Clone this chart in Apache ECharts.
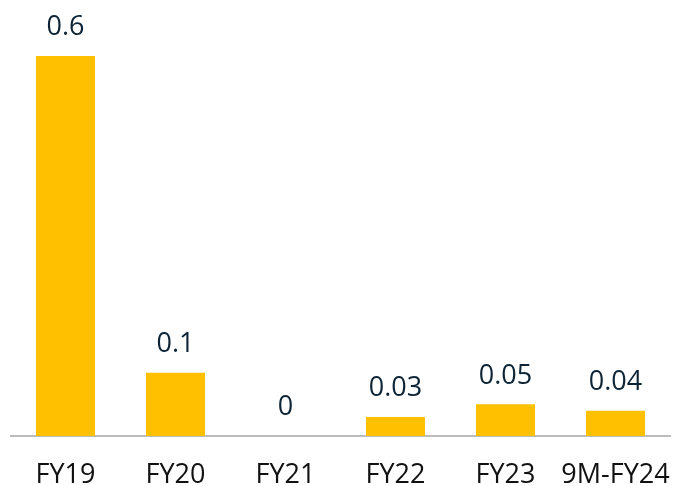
<!DOCTYPE html>
<html><head><meta charset="utf-8">
<script src="https://cdn.jsdelivr.net/npm/echarts@6/dist/echarts.min.js"></script>
<style>html,body{margin:0;padding:0;background:#fff}#c{width:675px;height:486px}</style>
</head><body><div id="c"></div>
<script>
const categories = ['FY19','FY20','FY21','FY22','FY23','9M-FY24'];
const values = [0.6, 0.1, 0, 0.03, 0.05, 0.04];
const chart = echarts.init(document.getElementById('c'), null, {renderer:'canvas'});
chart.setOption({
  animation:false,
  grid:{left:10.5, right:4.5, top:56, bottom:50, containLabel:false, outerBoundsMode:'none'},
  xAxis:{type:'category', data:categories,
    axisLine:{lineStyle:{color:'#A6A6A6', width:1.5}},
    axisTick:{show:false},
    axisLabel:{color:'#111', fontFamily:'Open Sans', fontSize:27, margin:26, interval:0}},
  yAxis:{type:'value', min:0, max:0.6, show:false, splitLine:{show:false}},
  series:[{type:'bar', data:values, barWidth:59,
    itemStyle:{color:'#FFC000'},
    label:{show:true, position:'top', distance:15, color:'#0D2436', fontFamily:'Open Sans', fontSize:27}}]
});
</script></body></html>
